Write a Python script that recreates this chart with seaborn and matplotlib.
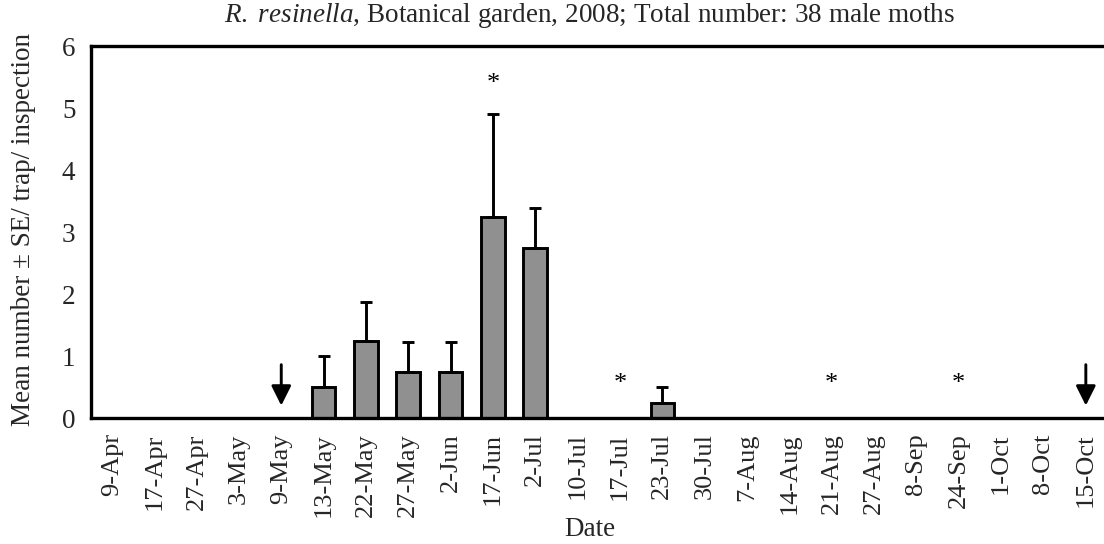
import matplotlib
matplotlib.use("Agg")
import matplotlib.pyplot as plt
import seaborn as sns
import numpy as np

dates = ["9-Apr", "17-Apr", "27-Apr", "3-May", "9-May", "13-May", "22-May", "27-May",
         "2-Jun", "17-Jun", "2-Jul", "10-Jul", "17-Jul", "23-Jul", "30-Jul", "7-Aug",
         "14-Aug", "21-Aug", "27-Aug", "8-Sep", "24-Sep", "1-Oct", "8-Oct", "15-Oct"]
means = [0, 0, 0, 0, 0, 0.5, 1.25, 0.75, 0.75, 3.25, 2.75, 0, 0, 0.25, 0, 0,
         0, 0, 0, 0, 0, 0, 0, 0]
se = [0, 0, 0, 0, 0, 0.5, 0.62, 0.48, 0.48, 1.65, 0.63, 0, 0, 0.25, 0, 0,
      0, 0, 0, 0, 0, 0, 0, 0]
asterisk_dates = ["17-Jun", "17-Jul", "21-Aug", "24-Sep"]
asterisk_y = [5.38, 0.55, 0.55, 0.55]
arrow_dates = ["9-May", "15-Oct"]
y_ticks = [0, 1, 2, 3, 4, 5, 6]

sns.set_theme(style="white")
plt.rcParams['font.family'] = ['Liberation Serif', 'DejaVu Serif']
plt.rcParams['mathtext.fontset'] = 'custom'
plt.rcParams['mathtext.rm'] = 'Liberation Serif'
plt.rcParams['mathtext.it'] = 'Liberation Serif:italic'

fig = plt.figure(figsize=(11.04, 5.44), dpi=100)
W, H = 1104, 544
left_px, right_px, top_px, bot_px = 90.7, 1107, 46, 418
ax = fig.add_axes([left_px / W, 1 - bot_px / H, (right_px - left_px) / W, (bot_px - top_px) / H])

sns.barplot(x=dates, y=means, order=dates, color="#909090", saturation=1,
            edgecolor="black", linewidth=2.1, width=0.56, ax=ax)

pos = {d: i for i, d in enumerate(dates)}
for i, (m, s) in enumerate(zip(means, se)):
    if s > 0:
        ax.errorbar(i, m, yerr=[[0], [s]], color="black", lw=2.1, capsize=4.3,
                    capthick=2.1, fmt="none", zorder=1)

for d, yv in zip(asterisk_dates, asterisk_y):
    ax.text(pos[d], yv, "*", ha="center", va="center", fontsize=19, color="black")

for d in arrow_dates:
    ax.annotate("", xy=(pos[d], 0.2), xytext=(pos[d], 0.86),
                arrowprops=dict(arrowstyle="-|>,head_length=0.8,head_width=0.4",
                                color="black", lw=2.1, mutation_scale=15,
                                shrinkA=0, shrinkB=0))

ax.set_xlim(-0.5, len(dates) - 0.5)
ax.set_ylim(0, 6)
ax.set_yticks(y_ticks)
ax.set_yticklabels([str(t) for t in y_ticks], fontsize=19.5)
ax.set_xticks(range(len(dates)))
ax.set_xticklabels(dates, rotation=90, fontsize=19)
ax.set_xticks(np.arange(-0.5, len(dates), 1), minor=True)
ax.tick_params(axis="x", which="major", length=0, pad=11)
ax.tick_params(axis="x", which="minor", length=8, width=2.1, direction="out", color="black")
ax.tick_params(axis="y", which="major", length=6, width=2.1, direction="out", color="black", pad=5)
ax.set_xlabel("")
ax.set_ylabel("")

for sp in ["left", "top", "bottom"]:
    ax.spines[sp].set_visible(True)
    ax.spines[sp].set_color("black")
    ax.spines[sp].set_linewidth(2.4)
ax.spines["right"].set_visible(False)

fig.text(590 / W, 1 - 16 / H, r"$\mathit{R.\ resinella}$, Botanical garden, 2008; Total number: 38 male moths",
         ha="center", va="center", fontsize=19.5)
fig.text(590 / W, 1 - 530 / H, "Date", ha="center", va="center", fontsize=19.5)
fig.text(24 / W, 1 - 230 / H, "Mean number ± SE/ trap/ inspection", ha="center", va="center",
         rotation=90, fontsize=19.5)

fig.savefig("out.png", dpi=100)
